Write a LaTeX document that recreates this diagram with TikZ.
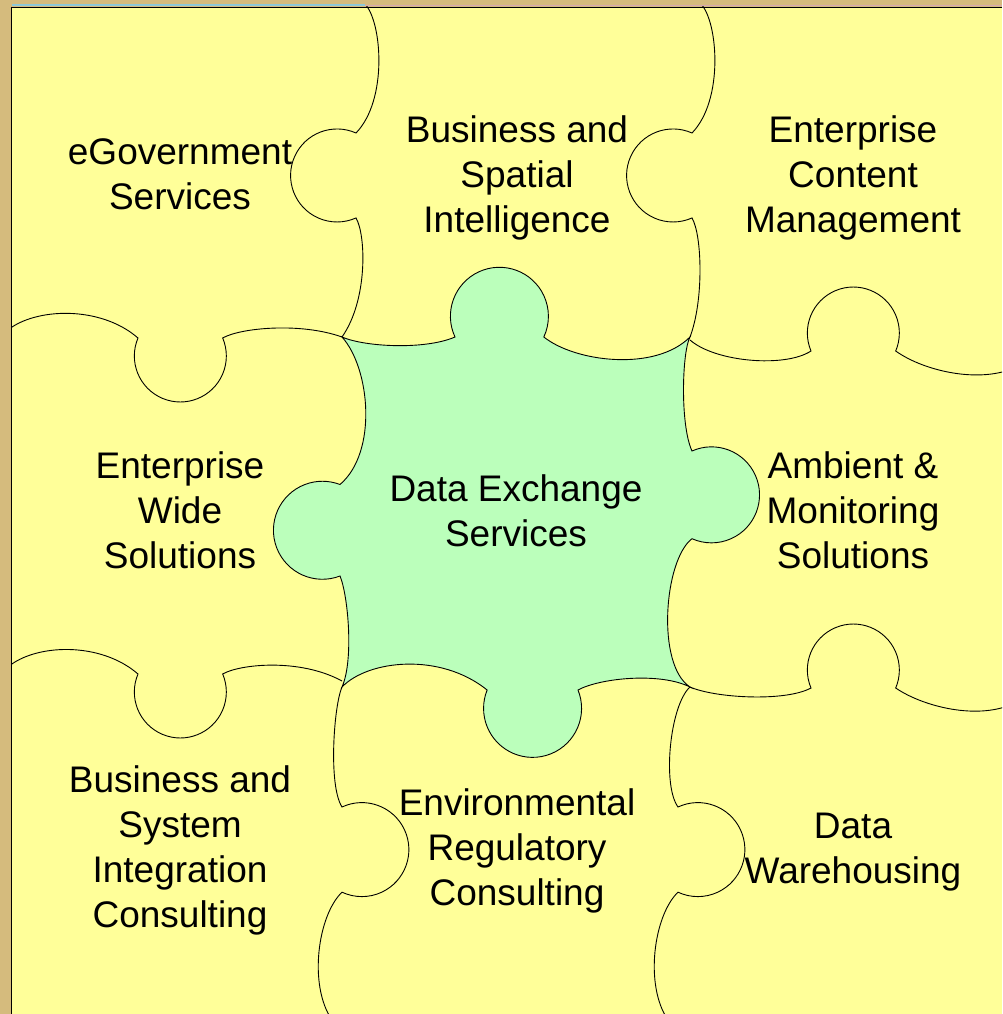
\documentclass[tikz,border=0pt]{standalone}
\usepackage{fontspec}
\setmainfont{Liberation Sans}
\usepackage{tikz}

\definecolor{board}{HTML}{D5BB7D}
\definecolor{tile}{HTML}{FFFF99}
\definecolor{hub}{HTML}{BBFFBB}
\definecolor{rimblue}{HTML}{8CC8D8}
\definecolor{rimpink}{HTML}{D8A8B0}

\begin{document}
\begin{tikzpicture}[x=1pt,y=-1pt,
    cut/.style={line width=.9pt},
    txt/.style={align=center,anchor=base,inner sep=0pt,font=\fontsize{37}{45}\selectfont}]
    \useasboundingbox (0,0) rectangle (1002,1014);
    \fill[board] (0,0) rectangle (1002,1014);
    \fill[tile] (11,7) rectangle (1002,1014);

    % the cuts between the outer pieces
    \begin{scope}
    \clip (11,7) rectangle (1002,1014);
    \draw[cut] (365,4) .. controls (382,22) and (388,100) .. (356,133)
        arc[start angle=-66,delta angle=-228,radius=46.5]
        .. controls (366,235) and (368,300) .. (342,337);
    \draw[cut] (701,4) .. controls (718,22) and (724,100) .. (692,133)
        arc[start angle=-66,delta angle=-228,radius=46.5]
        .. controls (702,235) and (704,300) .. (690,337);
    \draw[cut] (342,687) .. controls (334,705) and (328,785) .. (342,807)
        arc[start angle=-115,delta angle=230,radius=47]
        .. controls (318,915) and (308,985) .. (332,1020);
    \draw[cut] (690,687) .. controls (670,705) and (662,785) .. (678,807)
        arc[start angle=-115,delta angle=230,radius=47]
        .. controls (654,915) and (644,985) .. (668,1020);
    \draw[cut] (8,330) .. controls (35,308) and (100,305) .. (138,338)
        arc[start angle=203,delta angle=-226,radius=46]
        .. controls (240,328) and (300,322) .. (342,337);
    \draw[cut] (8,667) .. controls (35,644) and (100,641) .. (138,674)
        arc[start angle=203,delta angle=-226,radius=46]
        .. controls (240,664) and (300,658) .. (342,681);
    \draw[cut] (690,340) .. controls (715,362) and (785,368) .. (811,351)
        arc[start angle=157,delta angle=226,radius=46]
        .. controls (925,372) and (985,385) .. (1020,365);
    \draw[cut] (690,687) .. controls (715,698) and (785,702) .. (811,688)
        arc[start angle=157,delta angle=226,radius=46]
        .. controls (925,708) and (985,722) .. (1020,700);
    \end{scope}

    % centre piece
    \filldraw[cut,fill=hub] (342,337) .. controls (365,347) and (425,350) .. (455,337)
        arc[start angle=155,delta angle=230,radius=49]
        .. controls (575,362) and (655,372) .. (690,337)
        .. controls (682,352) and (680,425) .. (692,451)
        arc[start angle=-114,delta angle=228,radius=48]
        .. controls (664,560) and (656,665) .. (690,687)
        .. controls (660,672) and (600,678) .. (578,690)
        arc[start angle=-22,delta angle=224,radius=49]
        .. controls (440,652) and (368,660) .. (342,687)
        .. controls (354,660) and (348,595) .. (340,576)
        arc[start angle=69,delta angle=222,radius=49]
        .. controls (378,452) and (370,368) .. (342,337) -- cycle;

    \draw[rimblue,line width=2pt] (12,5) -- (365,5);
    \draw[rimpink,line width=1.2pt] (365,5.5) -- (1002,5.5);
    \draw[line width=1.5pt] (11,7.5) -- (1002,7.5);
    \draw[line width=1.8pt] (11.5,7) -- (11.5,1014);

    % labels sit on the baseline of their last line
    \node[txt] (egov) at (180,209) {eGovernment\\Services};
    \node[txt] (bsi) at (517,232) {Business and\\Spatial\\Intelligence};
    \node[txt] (ecm) at (853,232) {Enterprise\\Content\\Management};
    \node[txt] (ews) at (180,568) {Enterprise\\Wide\\Solutions};
    \node[txt] (dxs) at (516,546) {Data Exchange\\Services};
    \node[txt] (ams) at (853,568) {Ambient \&\\Monitoring\\Solutions};
    \node[txt] (bsic) at (180,927) {Business and\\System\\Integration\\Consulting};
    \node[txt] (erc) at (517,905) {Environmental\\Regulatory\\Consulting};
    \node[txt] (dwh) at (853,883) {Data\\Warehousing};
\end{tikzpicture}
\end{document}
